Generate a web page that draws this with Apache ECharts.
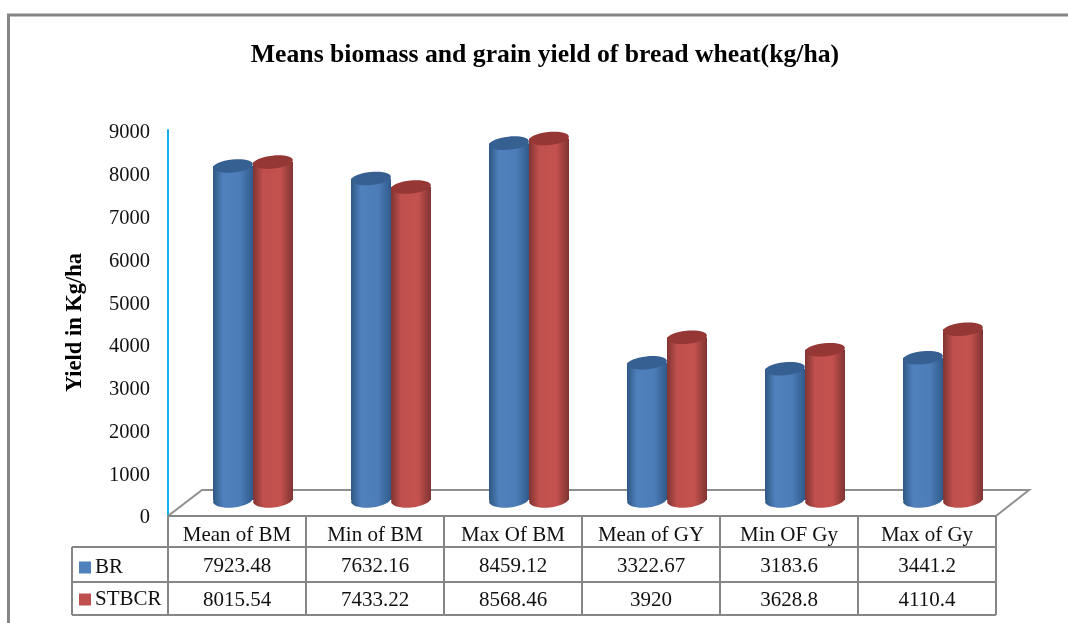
<!DOCTYPE html>
<html><head><meta charset="utf-8">
<style>html,body{margin:0;padding:0;background:#fff}#c{width:1068px;height:623px}</style>
<script src="https://cdn.jsdelivr.net/npm/echarts@6/dist/echarts.min.js"></script>
</head><body><div id="c"></div>
<script>
const categories = ['Mean of BM','Min of BM','Max Of BM','Mean of GY','Min OF Gy','Max of Gy'];
const brValues = [7923.48,7632.16,8459.12,3322.67,3183.6,3441.2];
const stbcrValues = [8015.54,7433.22,8568.46,3920,3628.8,4110.4];
const FONT = '"Liberation Serif","Times New Roman",serif';
const GREY = '#868686';

function grad(edgeL, mid1, mid2, edgeR){
  return new echarts.graphic.LinearGradient(0,0,1,0,[
    {offset:0,color:edgeL},{offset:.25,color:mid1},{offset:.68,color:mid2},{offset:1,color:edgeR}]);
}
function cylinder(slot, colors, rowY){
  return function(params, api){
    const idx = api.value(0), v = api.value(1);
    const w = 40, rx = 20, ry = 6.5, tilt = 0.1;
    const center = api.coord([idx, 0])[0];
    const left = center + 16 + (slot === 0 ? -w : 0);
    const cy = api.coord([idx, v])[1] - 10;
    const baseY = api.coord([idx, 0])[1] - 15;
    const g = grad(colors[0],colors[1],colors[2],colors[3]);
    return {type:'group',children:[
      {type:'ellipse',shape:{cx:left+rx,cy:baseY,rx:rx,ry:ry+1},rotation:tilt,originX:left+rx,originY:baseY,style:{fill:g}},
      {type:'rect',shape:{x:left,y:cy,width:w,height:baseY-cy},style:{fill:g}},
      {type:'ellipse',shape:{cx:left+rx,cy:cy,rx:rx,ry:ry},rotation:tilt,originX:left+rx,originY:cy,style:{fill:colors[4]}},
      {type:'text',x:center,y:rowY,style:{text:String(v),font:'21px '+FONT,fill:'#111',align:'center',verticalAlign:'middle'}}
    ]};
  };
}
const blueC = ['#2f5783','#4f81bd','#4c7db8','#305a8a','#376092'];
const redC  = ['#7f3432','#c0504d','#c4514e','#7f3432','#953735'];

const W=1068,H=623;
const X0=168,X1=996,colW=138,YT=516,R1=547,R2=582,R3=615,LX=72;
const line=(x1,y1,x2,y2)=>({type:'line',z:1,shape:{x1,y1,x2,y2},style:{stroke:GREY,lineWidth:2}});
const tableLines=[line(X0,YT,X1,YT),line(LX,R1,X1,R1),line(LX,R2,X1,R2),line(LX,R3,X1,R3),
  line(LX,R1,LX,R3),line(X0,YT,X0,R3)];
for(let i=1;i<=categories.length;i++) tableLines.push(line(X0+i*colW,YT,X0+i*colW,R3));

const chart=echarts.init(document.getElementById('c'),null,{renderer:'canvas'});
chart.setOption({
  animation:false,
  backgroundColor:'#fff',
  title:{text:'Means biomass and grain yield of bread wheat(kg/ha)',left:540,top:37,textAlign:'center',
    textStyle:{fontFamily:FONT,fontSize:25.7,fontWeight:'bold',color:'#000'}},
  legend:{orient:'vertical',left:74,top:552,itemWidth:12,itemHeight:12,itemGap:11,icon:'rect',
    textStyle:{fontFamily:FONT,fontSize:21,color:'#111',padding:[0,0,0,-1]},
    data:['BR','STBCR']},
  grid:[{left:X0,right:W-X1,top:130,bottom:H-515},
        {left:X0,right:W-X1,top:133,bottom:H-518}],
  xAxis:[{type:'category',data:categories,axisLine:{show:false},axisTick:{show:false},splitLine:{show:false},
    axisLabel:{fontFamily:FONT,fontSize:21,color:'#111',margin:10,interval:0}},
    {type:'category',gridIndex:1,data:categories,show:false}],
  yAxis:[{type:'value',min:0,max:9000,interval:1000,
    name:'Yield in Kg/ha',nameLocation:'middle',nameGap:81,
    nameTextStyle:{fontFamily:FONT,fontSize:22.5,fontWeight:'bold',color:'#000'},
    axisLine:{show:true,lineStyle:{color:'#13b0ec',width:2}},axisTick:{show:false},splitLine:{show:false},
    axisLabel:{show:false}},
    {type:'value',gridIndex:1,min:0,max:9000,interval:1000,
    axisLine:{show:false},axisTick:{show:false},splitLine:{show:false},
    axisLabel:{fontFamily:FONT,fontSize:20.5,color:'#111',margin:18,formatter:v=>String(v)}}],
  series:[
    {name:'BR',type:'custom',itemStyle:{color:'#4f81bd'},encode:{x:0,y:1},z:3,
      renderItem:cylinder(0,blueC,566),data:brValues.map((v,i)=>[i,v])},
    {name:'STBCR',type:'custom',itemStyle:{color:'#c0504d'},encode:{x:0,y:1},z:4,
      renderItem:cylinder(1,redC,600),data:stbcrValues.map((v,i)=>[i,v])}
  ],
  graphic:{elements:[
    {type:'polyline',z:1,shape:{points:[[X0,YT],[202,490],[1029,490],[X1,YT]]},style:{stroke:'#8f8f8f',lineWidth:2,fill:'#fff'}},
    ...tableLines,
    {type:'polyline',z:1,shape:{points:[[8.5,623],[8.5,15],[1068,15]]},style:{stroke:GREY,lineWidth:3,fill:null}}
  ]}
});
</script></body></html>
